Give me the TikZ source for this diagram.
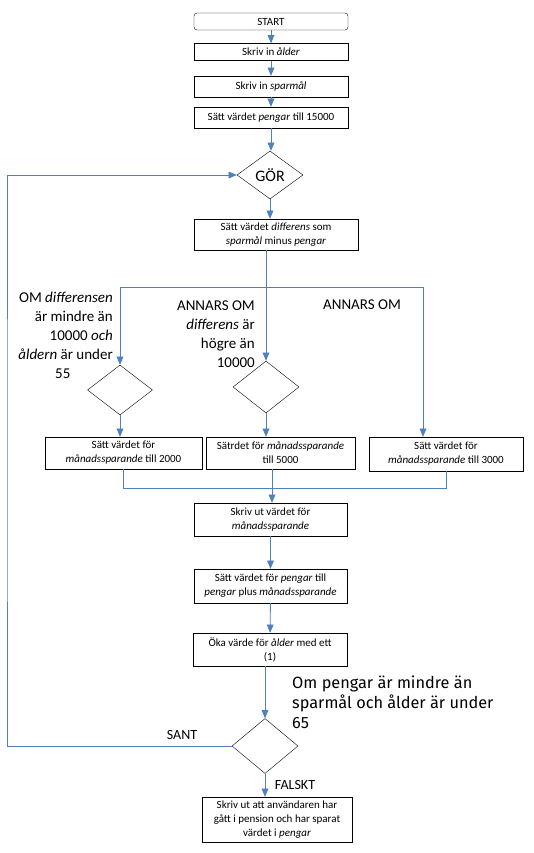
\documentclass[tikz,border=0pt]{standalone}
\usepackage{fontspec}
\setmainfont{Carlito}
\newfontfamily\handfont{Fira Sans}
\usetikzlibrary{shapes.geometric, arrows, positioning}
\definecolor{lineblue}{RGB}{79,129,189}
\tikzstyle{box} = [rectangle, draw=black, minimum width=154pt, minimum height=20pt, inner sep=1pt, align=center, font=\fontsize{11}{14}\selectfont]
\tikzstyle{startbox} = [box, rounded corners=3pt]
\tikzstyle{decision} = [diamond, draw=black, minimum width=66pt, minimum height=50pt, inner sep=0pt]
\tikzstyle{cond} = [font=\fontsize{15}{19}\selectfont, inner sep=0pt]
\tikzstyle{arrow} = [line width=0.9pt, draw=lineblue, ->, >=triangle 45]
\tikzstyle{conn} = [line width=0.9pt, draw=lineblue]

\begin{document}
\begin{tikzpicture}[x=1pt, y=-1pt]
    \useasboundingbox (0,0) rectangle (533,853);
    \node (start) [startbox, minimum height=17pt] at (271,21.5) {START};
    \node (alder) [box, minimum height=17pt] at (271,52) {Skriv in \textit{ålder}};
    \node (sparmal) [box, minimum height=21pt] at (271,86.5) {Skriv in \textit{sparmål}};
    \node (startpengar) [box, minimum height=21pt] at (271,117.5) {Sätt värdet \textit{pengar} till 15000};
    \node (gor) [decision, minimum height=48pt, font=\fontsize{16}{18}\selectfont] at (270,175) {GÖR};
    \node (diff) [box, minimum width=164pt, minimum height=31pt] at (276,234.5) {Sätt värdet \textit{differens} som\\ \textit{sparmål} minus \textit{pengar}};
    % Villkor
    \node (iflow) [decision, minimum width=65pt] at (120,390) {};
    \node (ifhigh) [decision, minimum height=52pt] at (266,387) {};
    \node (condlow) [cond, align=right, anchor=east] at (113,335) {OM \textit{differensen}\\ är mindre än\\ 10000 \textit{och}\\ \textit{åldern} är under\\ \makebox[100pt][c]{55}};
    \node (condhigh) [cond, align=right, anchor=east] at (255,334) {ANNARS OM\\ \textit{differens} är\\ högre än\\ 10000};
    \node (condelse) [cond] at (362,305) {ANNARS OM};
    \node (setlow) [box, minimum width=157pt, minimum height=32pt] at (123.5,453) {Sätt värdet för\\ \textit{månadssparande} till 2000};
    \node (sethigh) [box, minimum width=149pt, minimum height=32pt] at (280.5,453) {Sätrdet för \textit{månadssparande}\\ till 5000};
    \node (setelse) [box, minimum height=34pt] at (446,454) {Sätt värdet för\\ \textit{månadssparande} till 3000};
    \node (printsave) [box, minimum width=153pt, minimum height=33pt] at (270.5,519.5) {Skriv ut värdet för\\ \textit{månadssparande}};
    \node (addsave) [box, minimum width=153pt, minimum height=34pt] at (270.5,586) {Sätt värdet för \textit{pengar} till\\ \textit{pengar} plus \textit{månadssparande}};
    \node (addage) [box, minimum height=33pt] at (270,649.5) {Öka värde för \textit{ålder} med ett\\ (1)};
    % Slingans villkor
    \node (check) [decision, minimum height=55pt] at (265,746) {};
    \node (loopnote) [font=\handfont\fontsize{16.3}{20}\selectfont, align=left, anchor=west, inner sep=0pt] at (292,702) {Om pengar är mindre än\\ sparmål och ålder är under\\ 65};
    \node (sant) [cond, font=\fontsize{14}{17}\selectfont] at (182,735) {SANT};
    \node (falskt) [cond, font=\fontsize{14}{17}\selectfont] at (295,785) {FALSKT};
    \node (done) [box, minimum width=150pt, minimum height=45pt] at (277,819.5) {Skriv ut att användaren har\\ gått i pension och har sparat\\ värdet i \textit{pengar}};

    \coordinate (fork) at (268,287);
    \coordinate (forkright) at (423,287);
    \coordinate (merge) at (272,488);
    \coordinate (loopleft) at (7,460);

    \draw [arrow] (start) -- (alder);
    \draw [arrow] (alder) -- (sparmal);
    \draw [arrow] (sparmal) -- (startpengar);
    \draw [arrow] (startpengar.south) -- (startpengar.south |- gor.north);
    \draw [arrow] (gor.south) -- (gor.south |- diff.north);
    \draw [arrow] (diff.south -| ifhigh) -- (ifhigh.north);
    \draw [conn] (fork -| iflow) -- (forkright);
    \draw [arrow] (fork -| iflow) -- (iflow.north);
    \draw [arrow] (forkright) -- (forkright |- setelse.north);
    \draw [arrow] (iflow.south) -- (iflow.south |- setlow.north);
    \draw [arrow] (ifhigh.south) -- (ifhigh.south |- sethigh.north);
    \draw [conn] (setlow.south) -- (setlow.south |- merge) -- (setelse.south |- merge) -- (setelse.south);
    \draw [arrow] (sethigh.south -| merge) -- (merge |- printsave.north);
    \draw [arrow] (printsave) -- (addsave);
    \draw [arrow] (addsave) -- (addage);
    \draw [arrow] (addage.south -| check) -- (check.north);
    \draw [arrow] (check.south) -- (check.south |- done.north);
    \draw [arrow] (check.west) -| (loopleft) |- (gor.west);
\end{tikzpicture}
\end{document}
